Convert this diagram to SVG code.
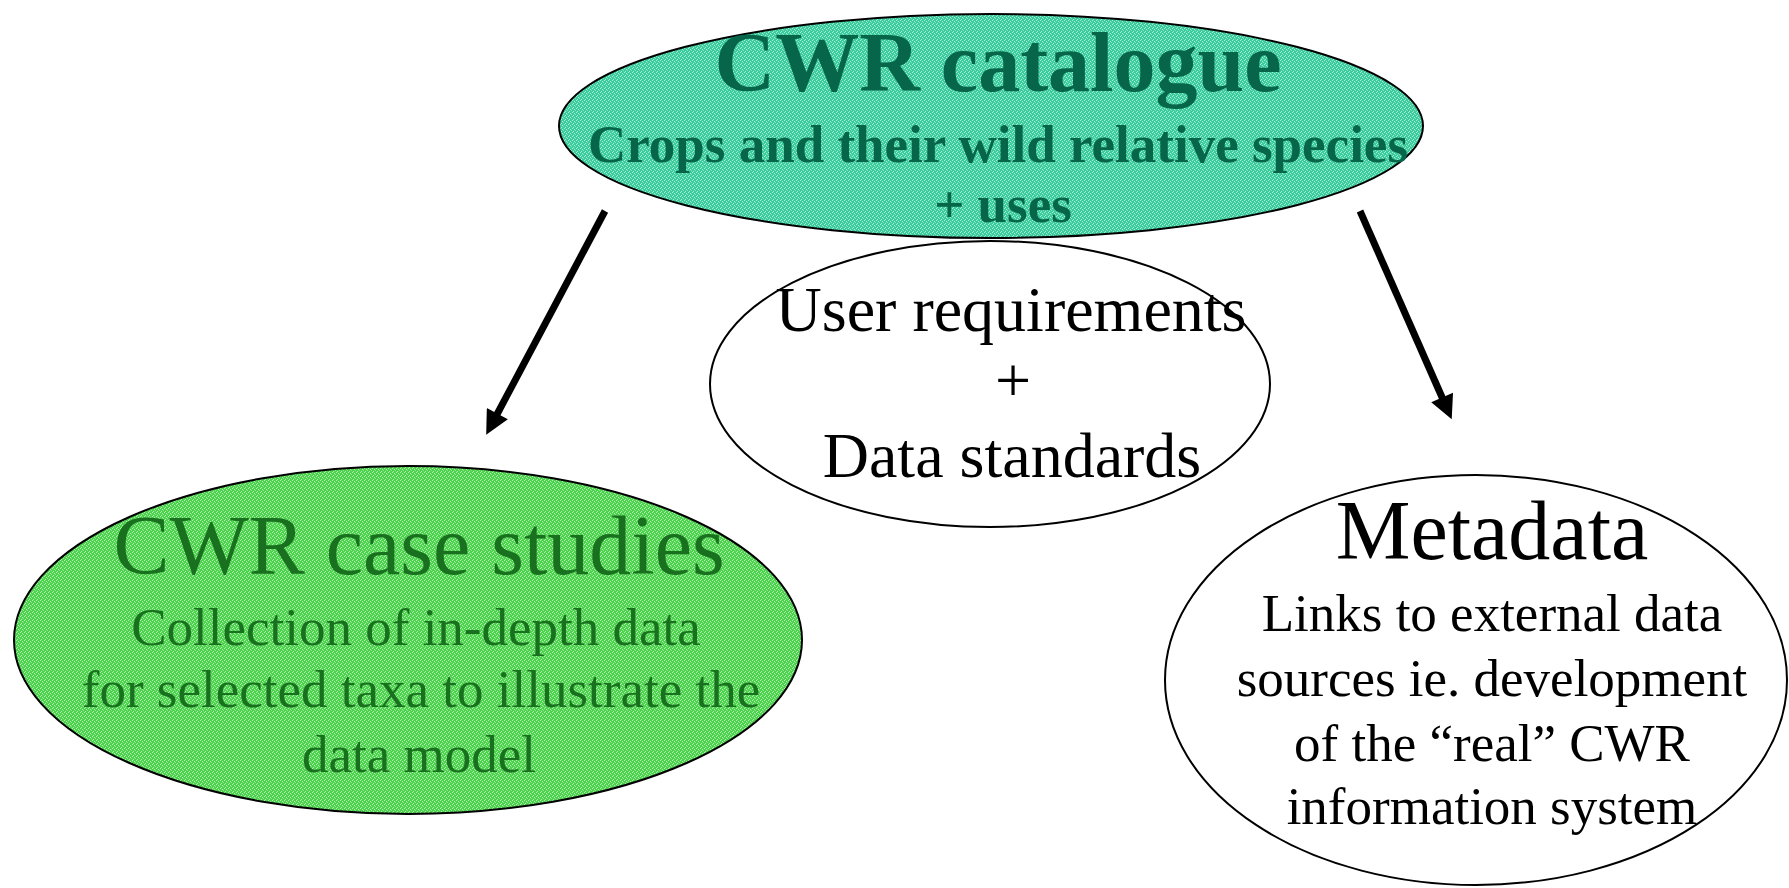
<svg xmlns="http://www.w3.org/2000/svg" width="1789" height="888" viewBox="0 0 1789 888">
  <style>
    .node { stroke: #000; stroke-width: 2; }
    .t { font-family: "Liberation Serif", "Times New Roman", serif; text-anchor: middle; }
    .b { font-weight: bold; }
    .tealtext { fill: #07664a; }
    .greentext { fill: #19701f; }
    .blk { fill: #000; }
    .conn { stroke: #000; stroke-width: 7; fill: none; }
  </style>
  <defs>
    <pattern id="teal" width="4" height="4" patternUnits="userSpaceOnUse">
      <rect width="4" height="4" fill="#3ccc9c"/>
      <rect x="0" y="0" width="1" height="1" fill="#a6eedb"/>
      <rect x="2" y="1" width="1" height="1" fill="#a6eedb"/>
      <rect x="1" y="3" width="1" height="1" fill="#a6eedb"/>
      <rect x="3" y="2" width="1" height="1" fill="#7fe2c4"/>
    </pattern>
    <pattern id="green" width="4" height="4" patternUnits="userSpaceOnUse">
      <rect width="4" height="4" fill="#4cd24c"/>
      <rect x="0" y="0" width="1" height="1" fill="#b4f0b4"/>
      <rect x="2" y="1" width="1" height="1" fill="#b4f0b4"/>
      <rect x="1" y="3" width="1" height="1" fill="#b4f0b4"/>
      <rect x="3" y="2" width="1" height="1" fill="#8fe48f"/>
    </pattern>
    <marker id="arrow" viewBox="0 0 10 10" refX="3" refY="5" markerWidth="4" markerHeight="3.4" orient="auto" markerUnits="strokeWidth">
      <path d="M0,0 L10,5 L0,10 z" fill="#000"/>
    </marker>
  </defs>

  <g id="user-requirements">
    <ellipse class="node" cx="990" cy="384" rx="280" ry="143" fill="#fff"/>
    <text class="t blk" x="1011" y="331" font-size="64">User requirements</text>
    <text class="t blk" x="1013" y="402" font-size="64">+</text>
    <text class="t blk" x="1012" y="477" font-size="64">Data standards</text>
  </g>

  <g id="cwr-catalogue">
    <ellipse class="node" cx="991" cy="126" rx="432" ry="112" fill="url(#teal)"/>
    <text class="t b tealtext" x="998" y="91" font-size="84">CWR catalogue</text>
    <text class="t b tealtext" x="998" y="162" font-size="53">Crops and their wild relative species</text>
    <text class="t b tealtext" x="1003" y="222" font-size="53">+ uses</text>
  </g>

  <g id="cwr-case-studies">
    <ellipse class="node" cx="408" cy="640" rx="394" ry="174" fill="url(#green)"/>
    <text class="t greentext" x="419" y="574" font-size="84">CWR case studies</text>
    <text class="t greentext" x="416" y="645" font-size="53">Collection of in-depth data</text>
    <text class="t greentext" x="421" y="707" font-size="53">for selected taxa to illustrate the</text>
    <text class="t greentext" x="419" y="772" font-size="53">data model</text>
  </g>

  <g id="metadata">
    <ellipse class="node" cx="1476" cy="680" rx="311" ry="205" fill="#fff"/>
    <text class="t blk" x="1492" y="559" font-size="84">Metadata</text>
    <text class="t blk" x="1492" y="631" font-size="53">Links to external data</text>
    <text class="t blk" x="1492" y="696" font-size="53">sources ie. development</text>
    <text class="t blk" x="1492" y="761" font-size="53">of the “real” CWR</text>
    <text class="t blk" x="1492" y="824" font-size="53">information system</text>
  </g>

  <g id="connectors">
    <line class="conn" x1="605" y1="211" x2="494" y2="420" marker-end="url(#arrow)"/>
    <line class="conn" x1="1360" y1="211" x2="1445" y2="404" marker-end="url(#arrow)"/>
  </g>
</svg>
